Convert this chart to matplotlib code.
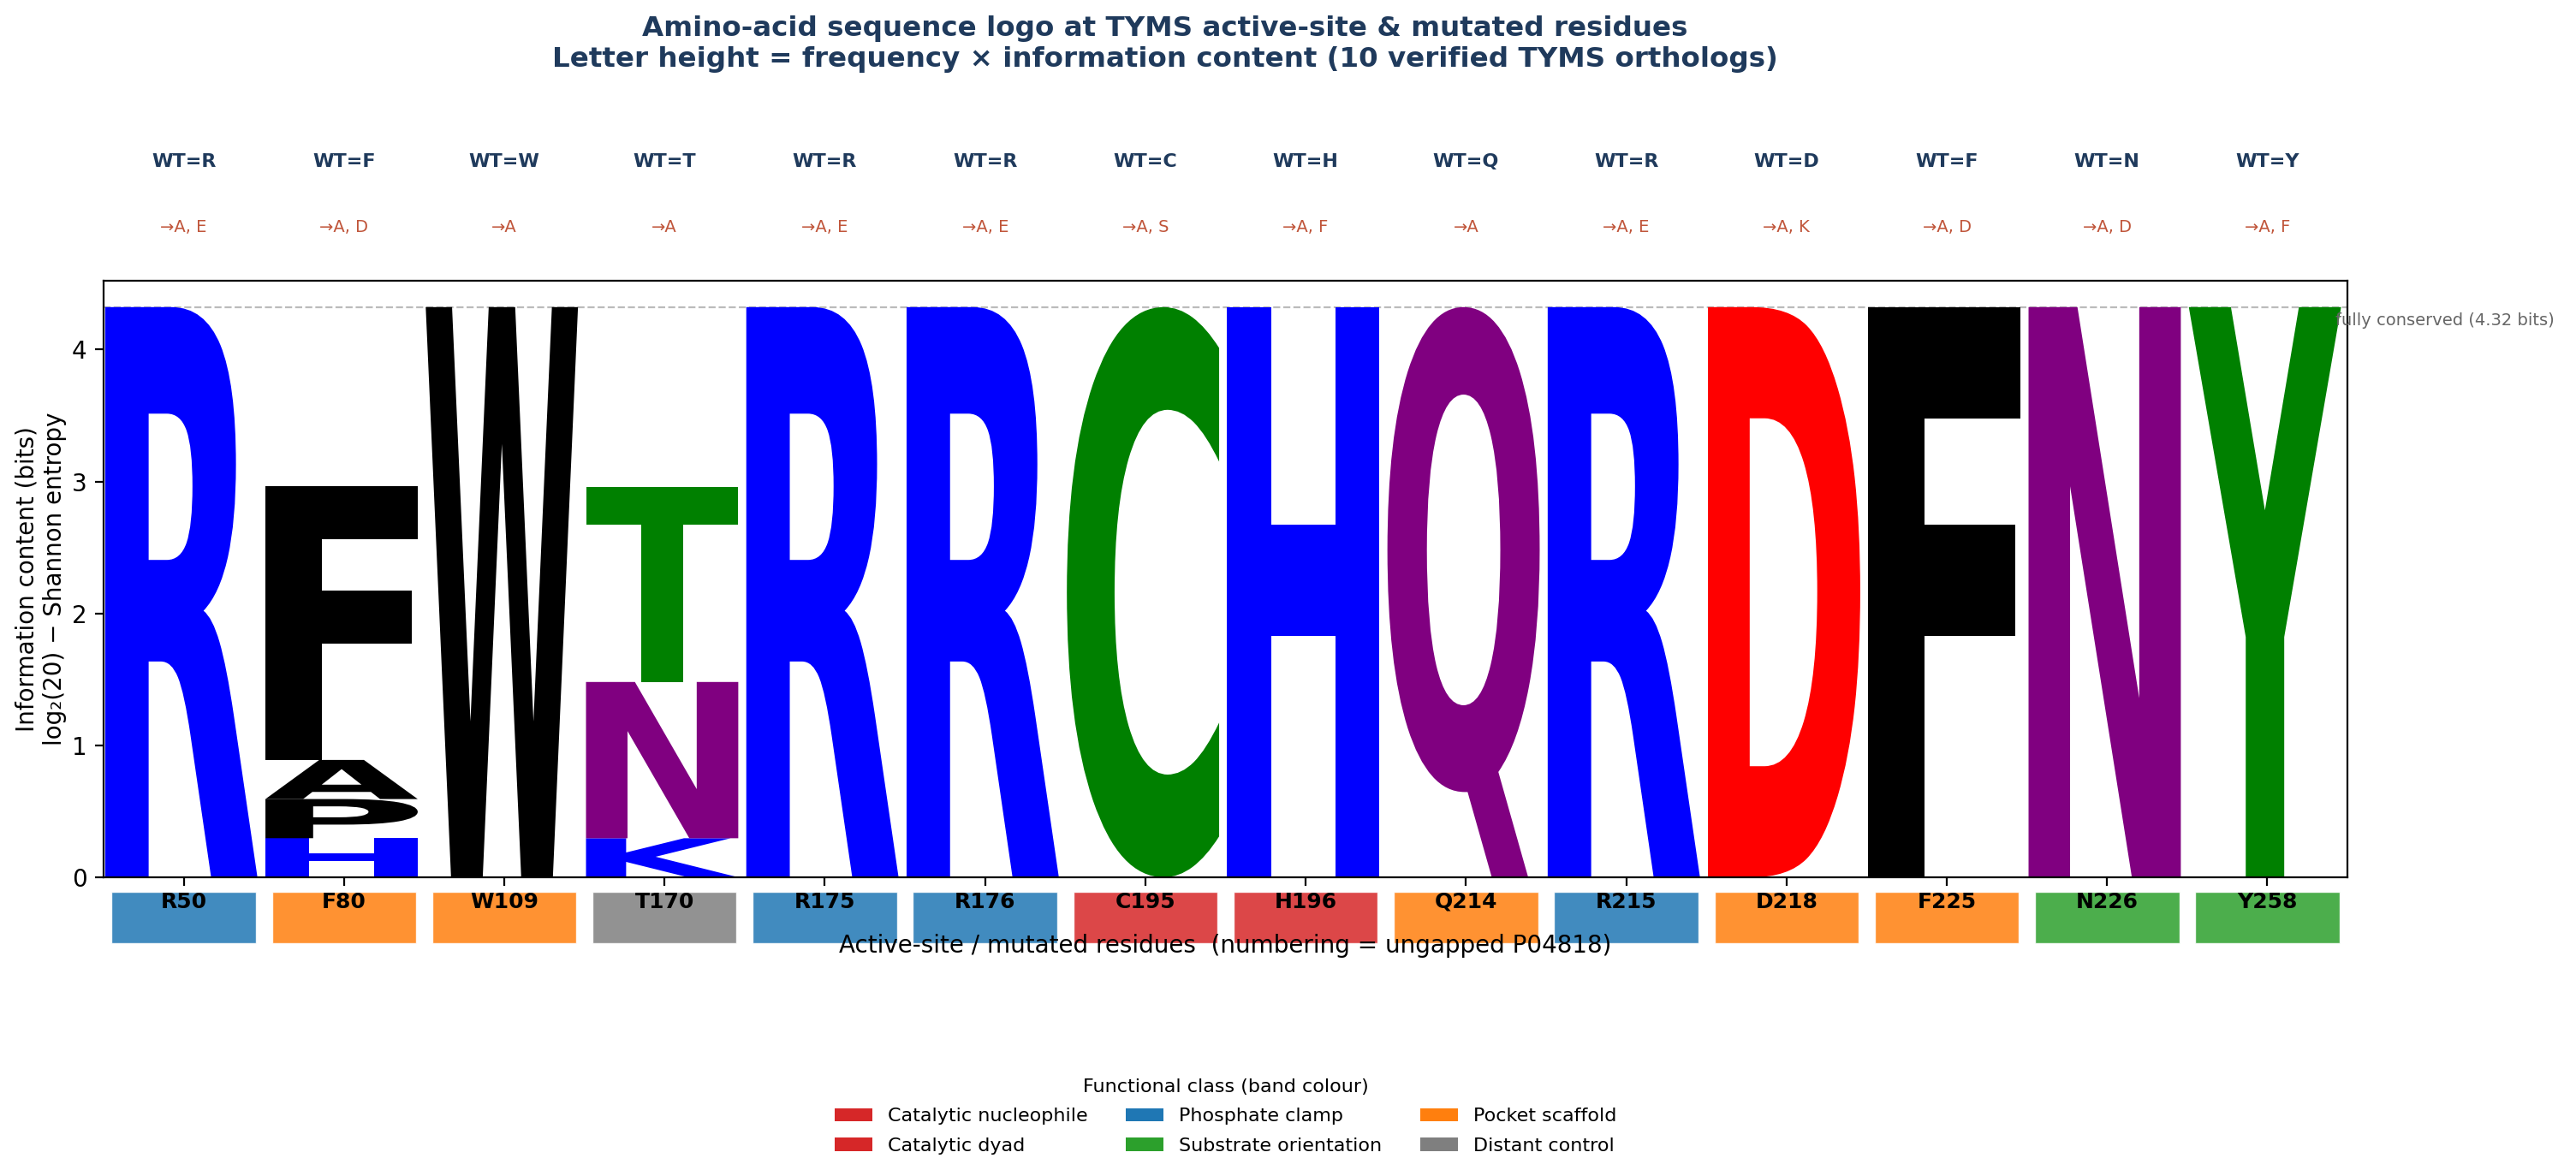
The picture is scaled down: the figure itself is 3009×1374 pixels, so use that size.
import matplotlib
matplotlib.use('Agg')
import matplotlib.pyplot as plt
import numpy as np
from matplotlib.textpath import TextPath
from matplotlib.font_manager import FontProperties
from matplotlib.patches import PathPatch, Rectangle, Patch
from matplotlib.transforms import Affine2D

# residues shown in the logo (ungapped P04818 numbering)
residues = ['R50', 'F80', 'W109', 'T170', 'R175', 'R176', 'C195', 'H196',
            'Q214', 'R215', 'D218', 'F225', 'N226', 'Y258']
wild_type = ['R', 'F', 'W', 'T', 'R', 'R', 'C', 'H', 'Q', 'R', 'D', 'F', 'N', 'Y']
mutations = ['A, E', 'A, D', 'A', 'A', 'A, E', 'A, E', 'A, S', 'A, F',
             'A', 'A, E', 'A, K', 'A, D', 'A, D', 'A, F']
func_class = ['Phosphate clamp', 'Pocket scaffold', 'Pocket scaffold', 'Distant control',
              'Phosphate clamp', 'Phosphate clamp', 'Catalytic nucleophile', 'Catalytic dyad',
              'Pocket scaffold', 'Phosphate clamp', 'Pocket scaffold', 'Pocket scaffold',
              'Substrate orientation', 'Substrate orientation']

# residue counts among the 10 orthologs (bottom -> top of each stack)
n_seqs = 10
counts = [
    {'R': 10},
    {'H': 1, 'P': 1, 'A': 1, 'F': 7},
    {'W': 10},
    {'K': 1, 'N': 4, 'T': 5},
    {'R': 10},
    {'R': 10},
    {'C': 10},
    {'H': 10},
    {'Q': 10},
    {'R': 10},
    {'D': 10},
    {'F': 10},
    {'N': 10},
    {'Y': 10},
]

class_order = ['Catalytic nucleophile', 'Catalytic dyad', 'Phosphate clamp',
               'Substrate orientation', 'Pocket scaffold', 'Distant control']
class_colors = {'Catalytic nucleophile': '#d62728', 'Catalytic dyad': '#d62728',
                'Phosphate clamp': '#1f77b4', 'Substrate orientation': '#2ca02c',
                'Pocket scaffold': '#ff7f0e', 'Distant control': '#7f7f7f'}

# chemistry colour scheme for letters
aa_colors = {}
for aa in 'KRH':
    aa_colors[aa] = 'blue'
for aa in 'DE':
    aa_colors[aa] = 'red'
for aa in 'NQ':
    aa_colors[aa] = 'purple'
for aa in 'GSTYC':
    aa_colors[aa] = 'green'
for aa in 'AVLIPWFM':
    aa_colors[aa] = 'black'

max_ic = np.log2(20)
fp = FontProperties(family='DejaVu Sans', weight='bold')


def draw_letter(ax, ch, x0, y0, w, h, color):
    tp = TextPath((0, 0), ch, size=1, prop=fp)
    bb = tp.get_extents()
    tr = (Affine2D().translate(-bb.x0, -bb.y0)
          .scale(w / bb.width, h / bb.height).translate(x0, y0))
    ax.add_patch(PathPatch(tr.transform_path(tp), facecolor=color,
                           edgecolor='none', lw=0))


fig = plt.figure(figsize=(15.045, 6.87), dpi=200)
ax = fig.add_axes([0.0402, 0.254, 0.8711, 0.5073])

navy = '#1f3a5c'
for i, col in enumerate(counts):
    p = np.array(list(col.values()), dtype=float) / n_seqs
    ic = max_ic + np.sum(p * np.log2(p))
    y = 0.0
    for aa, c in col.items():
        h = c / n_seqs * ic
        draw_letter(ax, aa, i - 0.49, y, 0.95, h, aa_colors[aa])
        y += h
    # functional-class band under the axis
    ax.add_patch(Rectangle((i - 0.45, -0.50), 0.9, 0.39, facecolor=class_colors[func_class[i]],
                           alpha=0.85, edgecolor='white', lw=0.5, clip_on=False))
    ax.text(i, 1.20, 'WT=' + wild_type[i], transform=ax.get_xaxis_transform(),
            ha='center', va='center', fontsize=8, fontweight='bold', color=navy)
    ax.text(i, 1.09, '\u2192' + mutations[i], transform=ax.get_xaxis_transform(),
            ha='center', va='center', fontsize=7, color='#c0553a')

ax.axhline(max_ic, color='#bbbbbb', lw=0.8, ls='--', zorder=0)
ax.text(len(residues) - 0.575, max_ic - 0.1, 'fully conserved (4.32 bits)',
        fontsize=7, color='#666666', ha='left', va='center')

ax.set_xlim(-0.5, len(residues) - 0.5)
ax.set_ylim(0, max_ic + 0.2)
ax.set_xticks(range(len(residues)))
ax.set_xticklabels(residues, fontsize=9, fontweight='bold')
ax.tick_params(axis='x', pad=2.5)
ax.set_yticks([0, 1, 2, 3, 4])
ax.set_ylabel('Information content (bits)\nlog\u2082(20) \u2212 Shannon entropy',
              fontsize=10, labelpad=2)
ax.set_xlabel('Active-site / mutated residues  (numbering = ungapped P04818)', fontsize=10)
ax.xaxis.set_label_coords(0.5, -0.094)

fig.text(0.4522, 0.987, 'Amino-acid sequence logo at TYMS active-site & mutated residues\n'
         'Letter height = frequency \u00d7 information content (10 verified TYMS orthologs)',
         ha='center', va='top', fontsize=11.7, fontweight='bold', color=navy)

handles = [Patch(facecolor=class_colors[c], label=c) for c in class_order]
ax.legend(handles=handles, loc='upper center', bbox_to_anchor=(0.5, -0.308), ncol=3,
          frameon=False, fontsize=8, labelspacing=0.65,
          title='Functional class (band colour)', title_fontsize=8)

fig.savefig('out.png', dpi=200)
